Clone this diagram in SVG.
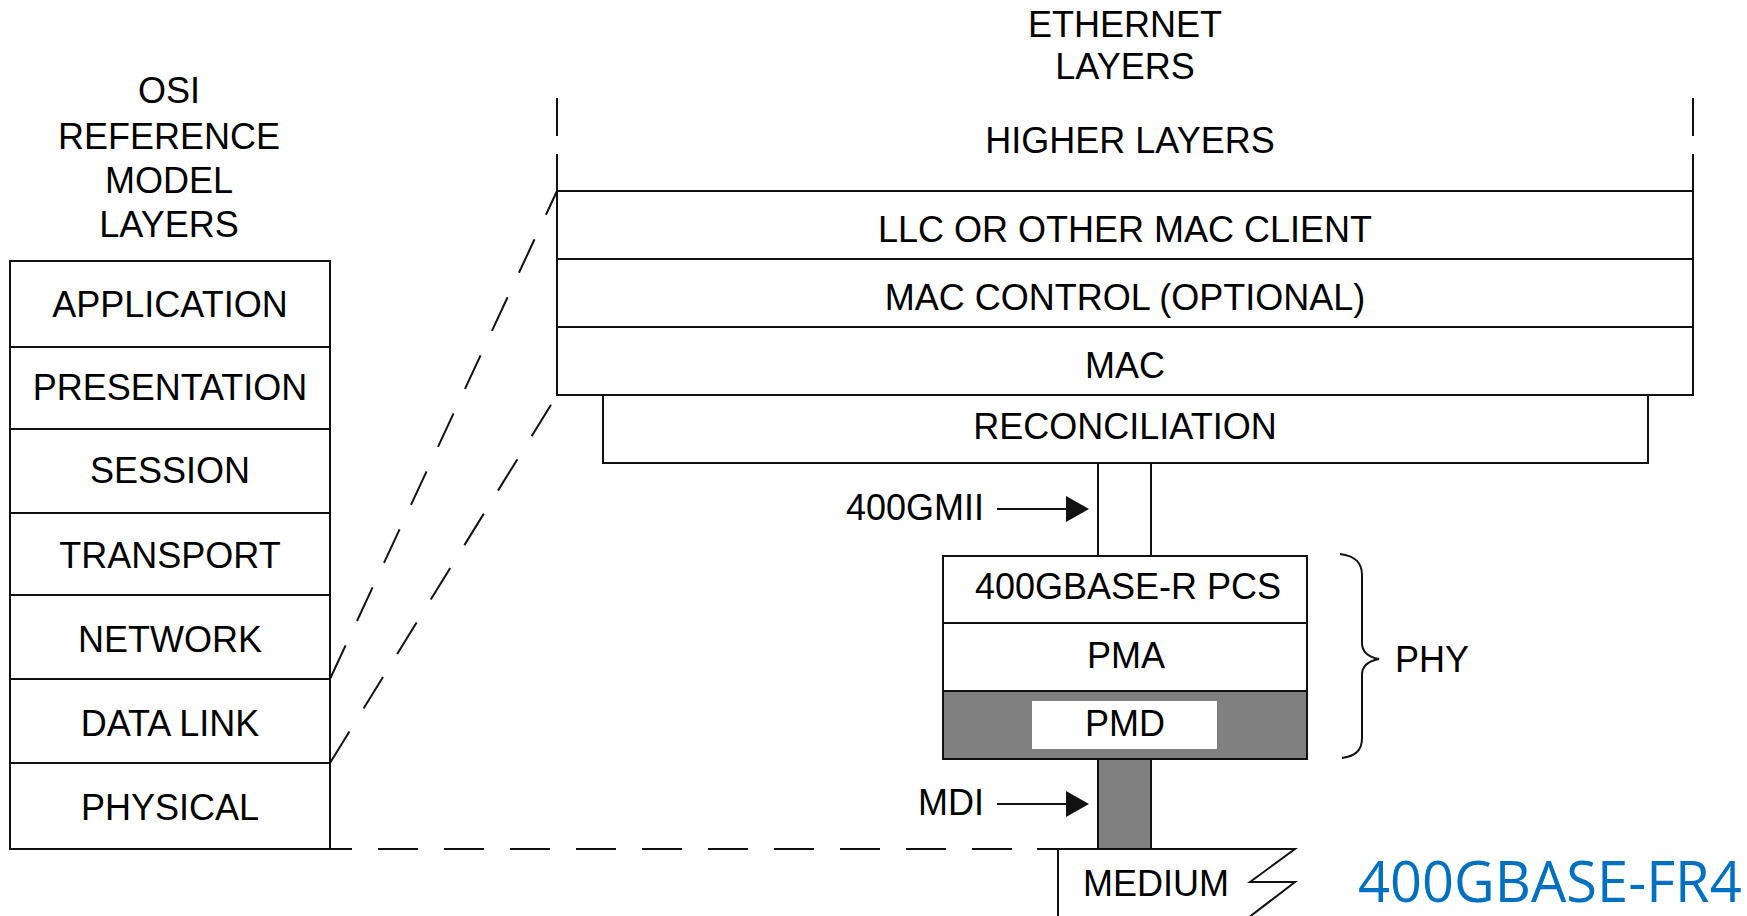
<svg xmlns="http://www.w3.org/2000/svg" width="1747" height="916" viewBox="0 0 1747 916">
<style>
  .t { font-family: "Liberation Sans", Arial, sans-serif; font-size: 36px; fill: #000; text-anchor: middle; }
  .ln { stroke: #111; stroke-width: 2; fill: none; }
  .box { stroke: #111; stroke-width: 2; fill: #fff; }
  .dash { stroke: #111; stroke-width: 2; fill: none; stroke-dasharray: 37 27; }
  .gray { fill: #808080; stroke: #111; stroke-width: 2; }
</style>
<rect width="1747" height="916" fill="#fff"/>

<g id="osi-title">
  <text class="t" x="169" y="103">OSI</text>
  <text class="t" x="169" y="149">REFERENCE</text>
  <text class="t" x="169" y="193">MODEL</text>
  <text class="t" x="169" y="237">LAYERS</text>
</g>
<g id="osi-application"><rect class="box" x="10" y="261" width="320" height="86"/><text class="t" x="170" y="317">APPLICATION</text></g>
<g id="osi-presentation"><rect class="box" x="10" y="347" width="320" height="82"/><text class="t" x="170" y="400">PRESENTATION</text></g>
<g id="osi-session"><rect class="box" x="10" y="429" width="320" height="84"/><text class="t" x="170" y="483">SESSION</text></g>
<g id="osi-transport"><rect class="box" x="10" y="513" width="320" height="82"/><text class="t" x="170" y="568">TRANSPORT</text></g>
<g id="osi-network"><rect class="box" x="10" y="595" width="320" height="84"/><text class="t" x="170" y="652">NETWORK</text></g>
<g id="osi-datalink"><rect class="box" x="10" y="679" width="320" height="84"/><text class="t" x="170" y="736">DATA LINK</text></g>
<g id="osi-physical"><rect class="box" x="10" y="763" width="320" height="86"/><text class="t" x="170" y="820">PHYSICAL</text></g>

<g id="eth-title">
  <text class="t" x="1125" y="37">ETHERNET</text>
  <text class="t" x="1125" y="79">LAYERS</text>
</g>
<g id="eth-higher">
  <line class="ln" x1="557" y1="98" x2="557" y2="136"/>
  <line class="ln" x1="557" y1="154" x2="557" y2="191"/>
  <line class="ln" x1="1693" y1="98" x2="1693" y2="136"/>
  <line class="ln" x1="1693" y1="154" x2="1693" y2="191"/>
  <text class="t" x="1130" y="153">HIGHER LAYERS</text>
</g>
<g id="eth-llc"><rect class="box" x="557" y="191" width="1136" height="68"/><text class="t" x="1125" y="242">LLC OR OTHER MAC CLIENT</text></g>
<g id="eth-maccontrol"><rect class="box" x="557" y="259" width="1136" height="68"/><text class="t" x="1125" y="310">MAC CONTROL (OPTIONAL)</text></g>
<g id="eth-mac"><rect class="box" x="557" y="327" width="1136" height="68"/><text class="t" x="1125" y="378">MAC</text></g>
<g id="eth-reconciliation"><rect class="box" x="603" y="395" width="1045" height="68"/><text class="t" x="1125" y="439">RECONCILIATION</text></g>

<g id="phy-pcs"><rect class="box" x="943" y="556" width="364" height="67"/><text class="t" x="1128" y="599">400GBASE-R PCS</text></g>
<g id="phy-pma"><rect class="box" x="943" y="623" width="364" height="68"/><text class="t" x="1126" y="668">PMA</text></g>
<g id="phy-pmd">
  <rect class="gray" x="943" y="691" width="364" height="68"/>
  <rect x="1032" y="701" width="185" height="48" fill="#fff"/>
  <text class="t" x="1125" y="736">PMD</text>
</g>
<g id="phy-brace">
  <path class="ln" d="M1340,554 C1356,556 1362,563 1362,575 L1362,643 C1362,652 1368,657 1379,659 C1368,661 1362,666 1362,675 L1362,738 C1362,750 1356,756 1342,758"/>
  <text class="t" x="1432" y="672">PHY</text>
</g>
<g id="medium">
  <path class="ln" d="M1037,849 L1295,849 L1250,882 L1295,882 L1248,918"/>
  <line class="ln" x1="1058" y1="849" x2="1058" y2="918"/>
  <text class="t" x="1156" y="896">MEDIUM</text>
</g>
<g id="fr4-label">
  <text x="1358" y="902" style="font-family: 'Open Sans', 'Noto Sans', sans-serif; font-size: 56px; fill: #0070C0;">400GBASE-FR4</text>
</g>

<g id="connectors">
  <line class="ln" x1="1098" y1="463" x2="1098" y2="556"/>
  <line class="ln" x1="1151" y1="463" x2="1151" y2="556"/>
  <rect class="gray" x="1098" y="759" width="53" height="90"/>
  <text class="t" x="984" y="520" style="text-anchor:end">400GMII</text>
  <line class="ln" x1="997" y1="509" x2="1068" y2="509"/>
  <polygon points="1066,496 1089,509 1066,522" fill="#111"/>
  <text class="t" x="984" y="815" style="text-anchor:end">MDI</text>
  <line class="ln" x1="997" y1="804" x2="1068" y2="804"/>
  <polygon points="1066,791 1089,804 1066,817" fill="#111"/>
  <line class="dash" x1="330" y1="679" x2="557" y2="191"/>
  <line class="dash" x1="330" y1="763" x2="557" y2="395"/>
  <line x1="330" y1="849" x2="1040" y2="849" stroke="#111" stroke-width="2" stroke-dasharray="40 26" stroke-dashoffset="18"/>
</g>
</svg>
